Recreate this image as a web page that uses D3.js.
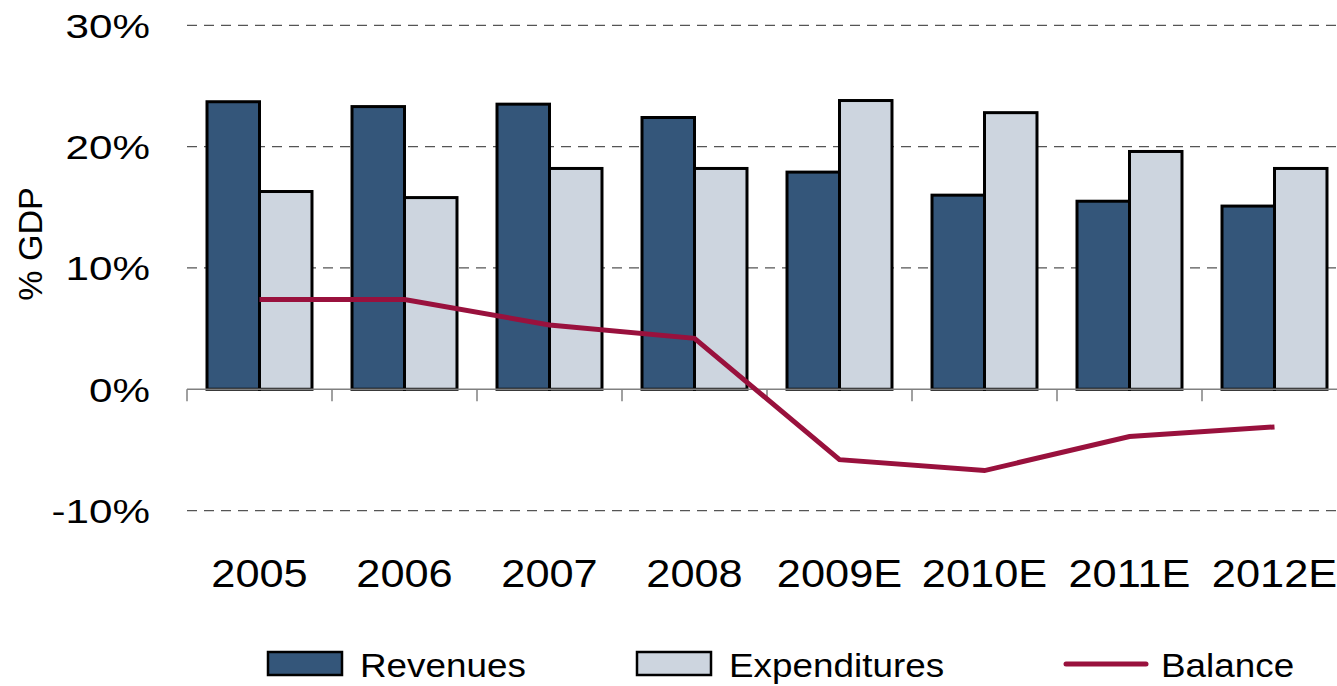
<!DOCTYPE html>
<html>
<head>
<meta charset="utf-8">
<script src="https://cdn.jsdelivr.net/npm/d3@7"></script>
<style>
  body { margin: 0; background: #fff; overflow: hidden; }
  text { font-family: "Liberation Sans", Arial, sans-serif; fill: #000; }
</style>
</head>
<body>
<div id="chart"></div>
<script>
var years = ['2005', '2006', '2007', '2008', '2009E', '2010E', '2011E', '2012E'];
var revenues = [23.7, 23.3, 23.5, 22.4, 17.9, 16.0, 15.5, 15.1];
var expenditures = [16.3, 15.8, 18.2, 18.2, 23.8, 22.8, 19.6, 18.2];
var balance = [7.4, 7.4, 5.3, 4.2, -5.8, -6.7, -3.9, -3.1];
var yTicks = [-10, 0, 10, 20, 30];
var seriesNames = ['Revenues', 'Expenditures', 'Balance'];

var W = 1337, H = 686;
var colRev = '#34567a', colExp = '#cdd5df', colBal = '#99113d';

var svg = d3.select('#chart').append('svg')
   .attr('width', W)
   .attr('height', H);

var x = d3.scaleBand().domain(years).range([187, 1347])
   .paddingInner(0.276).paddingOuter(0.138);
var xs = d3.scaleBand().domain(['rev', 'exp']).range([0, x.bandwidth()]);
var y = d3.scaleLinear().domain([-10, 30]).range([510.6, 25.3]);
var step = x.step();

// stretch text horizontally a bit, like the original render
function stretch(sel, k){
   sel.each(function(){
      var l = this.getComputedTextLength();
      d3.select(this).attr('textLength', l * k).attr('lengthAdjust', 'spacingAndGlyphs');
   });
}

// dashed gridlines
svg.append('g').selectAll('line')
   .data(yTicks.filter(function(d){ return d !== 0; }))
   .enter().append('line')
   .attr('x1', 187).attr('x2', W)
   .attr('y1', function(d){ return y(d); })
   .attr('y2', function(d){ return y(d); })
   .attr('stroke', '#555')
   .attr('stroke-width', 1.2)
   .attr('stroke-dasharray', '10,7');

// y labels
var yAxis = svg.append('g').attr('transform', 'translate(150,0)')
   .call(d3.axisLeft(y).tickValues(yTicks).tickSize(0).tickPadding(0)
      .tickFormat(function(d){ return d + '%'; }));
yAxis.select('.domain').remove();
yAxis.selectAll('text')
   .attr('font-size', 34)
   .attr('font-family', '"Liberation Sans", Arial, sans-serif')
   .attr('fill', '#000')
   .attr('dy', null)
   .attr('y', 12)
   .call(stretch, 1.24);

svg.append('text')
   .attr('transform', 'translate(42,244) rotate(-90)')
   .attr('text-anchor', 'middle')
   .attr('font-size', 34)
   .text('% GDP');

// bars
var groups = svg.append('g').selectAll('g')
   .data(years).enter().append('g')
   .attr('transform', function(d){ return 'translate(' + x(d) + ',0)'; });

groups.append('rect')
   .attr('x', xs('rev'))
   .attr('width', xs.bandwidth())
   .attr('y', function(d, i){ return y(revenues[i]); })
   .attr('height', function(d, i){ return y(0) - y(revenues[i]); })
   .attr('fill', colRev)
   .attr('stroke', '#000')
   .attr('stroke-width', 3);

groups.append('rect')
   .attr('x', xs('exp'))
   .attr('width', xs.bandwidth())
   .attr('y', function(d, i){ return y(expenditures[i]); })
   .attr('height', function(d, i){ return y(0) - y(expenditures[i]); })
   .attr('fill', colExp)
   .attr('stroke', '#000')
   .attr('stroke-width', 3);

// zero axis with boundary ticks
svg.append('line')
   .attr('x1', 187).attr('x2', W)
   .attr('y1', y(0)).attr('y2', y(0))
   .attr('stroke', '#808080').attr('stroke-width', 1.5);

svg.append('g').selectAll('line')
   .data(years).enter().append('line')
   .attr('x1', function(d){ return x(d) - x.paddingOuter() * step; })
   .attr('x2', function(d){ return x(d) - x.paddingOuter() * step; })
   .attr('y1', y(0)).attr('y2', y(0) + 12)
   .attr('stroke', '#808080').attr('stroke-width', 1.5);

// balance line
var line = d3.line()
   .x(function(d, i){ return x(years[i]) + x.bandwidth() / 2; })
   .y(function(d){ return y(d); });

svg.append('path')
   .datum(balance)
   .attr('d', line)
   .attr('fill', 'none')
   .attr('stroke', colBal)
   .attr('stroke-width', 5);

// x labels
svg.append('g').selectAll('text')
   .data(years).enter().append('text')
   .attr('x', function(d){ return x(d) + x.bandwidth() / 2; })
   .attr('y', 587)
   .attr('text-anchor', 'middle')
   .attr('font-size', 38)
   .text(function(d){ return d; })
   .call(stretch, 1.14);

// legend
var legX = [268, 637, 1066];
var leg = svg.append('g').selectAll('g')
   .data(seriesNames).enter().append('g')
   .attr('transform', function(d, i){ return 'translate(' + legX[i] + ',652)'; });

leg.filter(function(d, i){ return i < 2; })
   .append('rect')
   .attr('width', 74).attr('height', 23)
   .attr('fill', function(d, i){ return i === 0 ? colRev : colExp; })
   .attr('stroke', '#000').attr('stroke-width', 2.5);

leg.filter(function(d, i){ return i === 2; })
   .append('line')
   .attr('x1', 0).attr('x2', 80)
   .attr('y1', 12).attr('y2', 12)
   .attr('stroke', colBal).attr('stroke-width', 5)
   .attr('stroke-linecap', 'round');

leg.append('text')
   .attr('x', function(d, i){ return i === 2 ? 95 : 92; })
   .attr('y', 25)
   .attr('font-size', 33.5)
   .text(function(d){ return d; })
   .call(stretch, 1.1);
</script>
</body>
</html>
